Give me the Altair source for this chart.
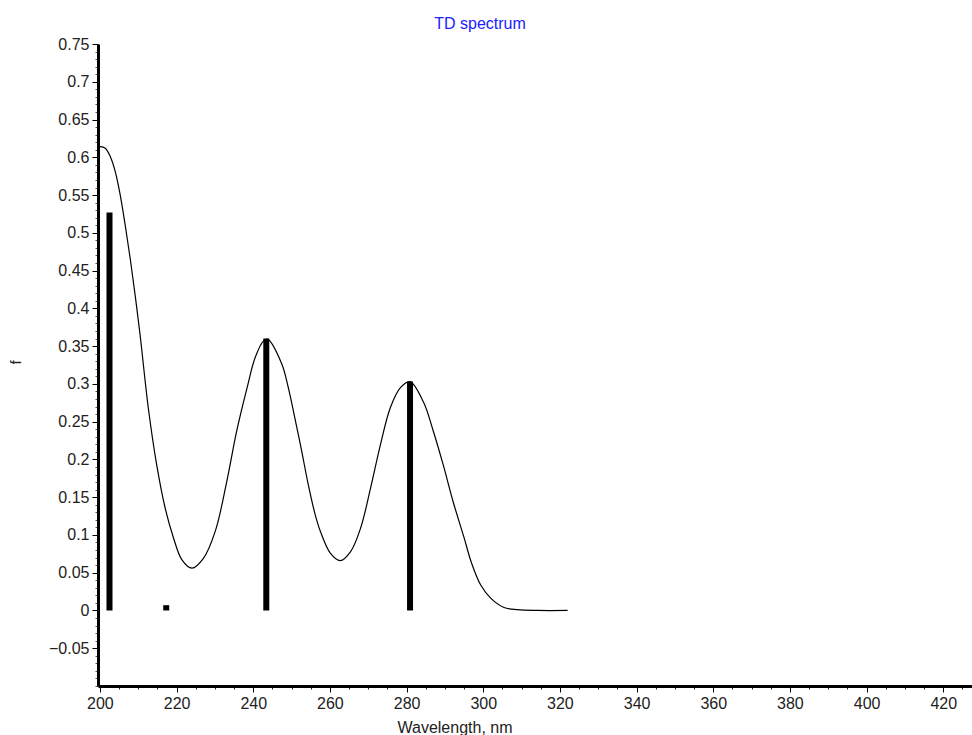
import altair as alt
import pandas as pd

# Calculated spectrum curve
curve_wl = [200.0, 201.4, 202.7, 204.0, 205.3, 206.6, 207.9, 209.2, 210.5, 212.6,
            214.8, 217.0, 219.2, 221.4, 224.0, 227.0, 230.1, 233.1, 235.7, 238.4,
            240.5, 242.7, 243.8, 247.4, 249.1, 250.8, 252.6, 254.3, 256.1, 257.5,
            260.1, 262.7, 265.4, 268.0, 270.6, 273.2, 275.8, 278.4, 280.9, 284.4,
            287.0, 289.6, 292.2, 294.9, 297.0, 299.3, 302.0, 305.4, 308.9, 314.2,
            322.0]
curve_f = [0.614, 0.612, 0.601, 0.581, 0.550, 0.510, 0.466, 0.417, 0.364, 0.269,
           0.193, 0.136, 0.096, 0.067, 0.056, 0.069, 0.105, 0.171, 0.238, 0.295,
           0.335, 0.357, 0.359, 0.327, 0.296, 0.256, 0.212, 0.168, 0.128, 0.105,
           0.076, 0.066, 0.078, 0.109, 0.162, 0.220, 0.269, 0.295, 0.303, 0.276,
           0.237, 0.192, 0.143, 0.098, 0.062, 0.034, 0.016, 0.004, 0.001, 0.000,
           0.000]

# Transitions (stick spectrum)
line_wl = [202.5, 217.3, 243.4, 280.9]
line_f = [0.527, 0.007, 0.360, 0.303]

x_major = [200, 220, 240, 260, 280, 300, 320, 340, 360, 380, 400, 420]
x_minor = [200 + 5 * i for i in range(46)]
y_major = [-0.05, 0, 0.05, 0.1, 0.15, 0.2, 0.25, 0.3, 0.35, 0.4, 0.45, 0.5,
           0.55, 0.6, 0.65, 0.7, 0.75]
y_minor = [round(-0.1 + 0.01 * i, 2) for i in range(86)]

curve = pd.DataFrame({"wl": curve_wl, "f": curve_f})
sticks = pd.DataFrame({"wl": line_wl, "f": line_f})

FONT = "Liberation Sans"
xs = alt.Scale(domain=[199.5, 427.5], nice=False, zero=False, padding=0)
ys = alt.Scale(domain=[-0.1, 0.75], nice=False, zero=False, padding=0)

minor = alt.Chart(curve).mark_line(opacity=0).encode(
    x=alt.X("wl:Q", scale=xs, axis=alt.Axis(orient="bottom", values=x_minor, labels=False,
                                           tickSize=3, domain=False, grid=False, title=None,
                                           tickColor="#222")),
    y=alt.Y("f:Q", scale=ys, axis=alt.Axis(orient="left", values=y_minor, labels=False,
                                          tickSize=3, domain=False, grid=False, title=None,
                                          tickColor="#555")),
)

main = alt.Chart(curve).mark_line(color="black", strokeWidth=1.2,
                                  interpolate="catmull-rom").encode(
    x=alt.X("wl:Q", scale=xs, axis=alt.Axis(
        orient="bottom",
        values=x_major, tickSize=6, grid=False, domainWidth=3, domainColor="black",
        tickColor="black", labelFont=FONT, labelFontSize=16, labelColor="#222",
        labelPadding=3, labelFlush=False,
        title="Wavelength, nm", titleFont=FONT, titleFontSize=16, titleFontWeight="normal",
        titleColor="#222", titleX=299, titleY=33, titleBaseline="top", titleAnchor="start")),
    y=alt.Y("f:Q", scale=ys, axis=alt.Axis(
        orient="left",
        values=y_major, tickSize=6, grid=False, domainWidth=3, domainColor="black",
        tickColor="black", labelFont=FONT, labelFontSize=16, labelColor="#222",
        labelPadding=3, labelFlush=False, format="~g",
        title="f", titleFont=FONT, titleFontSize=15, titleFontWeight="normal",
        titleColor="#222", titleX=-75, titleY=318, titleAngle=-90)),
)

bars = alt.Chart(sticks).mark_bar(color="black", width=6).encode(
    x=alt.X("wl:Q", scale=xs, axis=None),
    y=alt.Y("f:Q", scale=ys, axis=None),
    y2=alt.datum(0),
)

chart = alt.layer(minor, main, bars).resolve_axis(
    x="independent", y="independent"
).properties(
    width=874, height=642,
    background="white",
    title=alt.TitleParams("TD spectrum", font=FONT, fontSize=16, fontWeight="normal",
                          color="#2020ff", anchor="middle", dx=-55, offset=4),
    autosize=alt.AutoSizeParams(type="none"),
    padding={"left": 98, "top": 44, "right": 0, "bottom": 49},
).configure_view(stroke=None, strokeWidth=0)

chart.save("out.html", embed_options={"renderer": "svg", "actions": False})
